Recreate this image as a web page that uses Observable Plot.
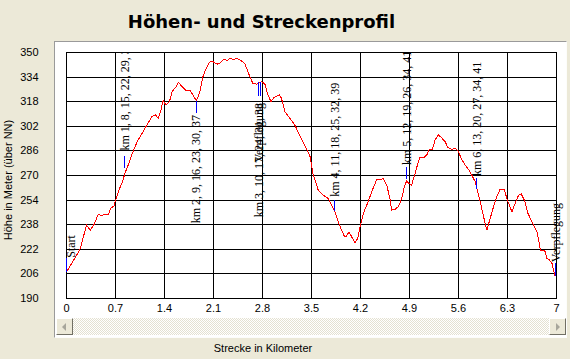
<!DOCTYPE html>
<html><head><meta charset="utf-8">
<script src="https://cdn.jsdelivr.net/npm/d3@7"></script>
<script src="https://cdn.jsdelivr.net/npm/@observablehq/plot@0.6"></script>
<style>
html,body{margin:0;padding:0;background:#ECE9D8;}
#wrap{position:relative;width:570px;height:359px;overflow:hidden;background:#ECE9D8;font-family:"Liberation Sans",Arial,sans-serif;}
#panel{position:absolute;left:54px;top:41px;width:511px;height:295px;background:#fff;border-top:1px solid #9a9a9a;border-left:1px solid #9a9a9a;border-right:1px solid #fdfdfb;border-bottom:1px solid #fdfdfb;}
#scroll{position:absolute;left:56px;top:318px;width:510px;height:17px;background-color:#f4f3ee;background-image:repeating-conic-gradient(#ffffff 0 25%, #e4e1d1 0 50%);background-size:2px 2px;}
.btn{position:absolute;top:0;width:15px;height:15px;background:#ECE9D8;border:1px solid;border-color:#fff #716f64 #716f64 #fff;box-sizing:content-box;}
.btn.l{left:0;} .btn.r{right:0;}
.tri{position:absolute;top:4px;width:0;height:0;border-top:4px solid transparent;border-bottom:4px solid transparent;}
.btn.l .tri{left:5px;border-right:4px solid #a7a69b;}
.btn.r .tri{left:6px;border-left:4px solid #a7a69b;}
#chart{position:absolute;left:0;top:0;}
#title{position:absolute;left:0;top:13px;width:523px;text-align:center;font:bold 18px "DejaVu Sans",sans-serif;line-height:18px;color:#000;white-space:nowrap;}
#xtitle{position:absolute;left:0;top:343px;width:526px;text-align:center;font:11px "Liberation Sans",Arial,sans-serif;line-height:11px;color:#000;white-space:nowrap;}
#ytitle{position:absolute;left:8px;top:180px;transform:translate(-50%,-50%) rotate(-90deg);font:11px "Liberation Sans",Arial,sans-serif;line-height:11px;color:#000;white-space:nowrap;}
</style>
</head><body>
<div id="wrap">
  <div id="panel"></div>
  <div id="scroll"><div class="btn l"><div class="tri"></div></div><div class="btn r"><div class="tri"></div></div></div>
  <div id="chart"></div>
  <div id="title">Höhen- und Streckenprofil</div>
  <div id="xtitle">Strecke in Kilometer</div>
  <div id="ytitle">Höhe in Meter (über NN)</div>
</div>
<script>
// ---- data ----
const xTicks = [0, 0.7, 1.4, 2.1, 2.8, 3.5, 4.2, 4.9, 5.6, 6.3, 7];
const xTickLabels = ["0", "0.7", "1.4", "2.1", "2.8", "3.5", "4.2", "4.9", "5.6", "6.3", "7"];
const yTicks = [190, 206, 222, 238, 254, 270, 286, 302, 318, 334, 350];
const yTickLabels = ["190", "206", "222", "238", "254", "270", "286", "302", "318", "334", "350"];

const distanceKm = [0,0.06,0.13,0.19,0.23,0.285,0.34,0.39,0.455,0.5,
  0.54,0.6,0.63,0.68,0.7,0.75,0.8,0.835,0.89,0.95,
  1.01,1.08,1.15,1.22,1.27,1.31,1.35,1.38,1.42,1.47,
  1.51,1.56,1.6,1.65,1.71,1.77,1.82,1.855,1.9,1.95,
  1.99,2.04,2.09,2.15,2.19,2.25,2.29,2.34,2.39,2.43,
  2.48,2.55,2.6,2.66,2.72,2.79,2.84,2.87,2.92,2.96,
  3.04,3.07,3.12,3.19,3.26,3.33,3.4,3.48,3.52,3.595,
  3.667,3.739,3.786,3.834,3.882,3.93,3.968,4.0,4.035,4.073,
  4.12,4.16,4.19,4.24,4.31,4.36,4.43,4.478,4.526,4.574,
  4.62,4.645,4.69,4.74,4.79,4.827,4.86,4.89,4.93,4.98,
  5.027,5.05,5.11,5.146,5.18,5.227,5.266,5.31,5.35,5.41,
  5.447,5.504,5.55,5.6,5.638,5.695,5.743,5.79,5.838,5.87,
  5.91,5.958,6.005,6.053,6.1,6.148,6.196,6.253,6.29,6.325,
  6.363,6.41,6.459,6.497,6.545,6.592,6.65,6.72,6.745,6.77,
  6.83,6.864,6.9,6.936,6.98];
const elevation = [207.4,211.7,217.1,221.5,228,237.8,234.5,237.8,244.9,243.8,
  244.7,244.9,248.6,250.3,253.8,260.6,266,271.4,277.9,285.5,
  292,297.5,302.9,308.3,309.4,307.2,312.7,318.7,316,318,
  324.6,327.4,330.5,327.9,325.2,325,321.3,318.7,323.5,334.4,
  339.1,343.7,344.1,342.4,343,345.9,344.6,346.3,345.2,346.3,
  345.2,342.6,336.5,330,329.4,331.1,329,323.5,318.1,320.5,
  322.4,320.3,311.6,307.2,302.9,296.4,289.9,282.3,271.4,260.6,
  257.3,255.1,250.8,246.4,239.9,234.5,230.6,230.6,233.4,230.2,
  226.3,229.1,235.6,245.4,253,259.5,267.1,267.1,268.2,263.8,
  255.1,247.5,247.9,249.7,255.1,262.7,266.6,264.9,263.8,271.4,
  279,281.8,281.8,283.3,286.6,287,293.1,296.4,294.9,292,
  288.3,287,287.7,285.5,281.2,276.8,274,270.3,266,260.1,
  253,243.2,234.5,242.1,249.7,256.2,261.2,261.2,255.1,250.8,
  246.4,251.9,257.3,258,253.6,245.4,239.9,233.4,228.4,221.5,
  221.5,216.1,215,212.8,204.5];

// blue marker ticks
const markerKm   = [0, 0.833, 1.857, 2.738, 2.767, 3.833, 4.857, 5.857, 6.98];
const markerLow  = [207, 274.7, 310.5, 321.3, 321.3, 246.4, 267.1, 260.6, 204.5];
const markerHigh = [216.2, 282.2, 318.1, 330.5, 330.5, 253.6, 274.9, 268.3, 213];

// labels reading upward from their anchor
const upKm    = [0.06, 0.835, 3.843, 4.862, 5.86];
const upElev  = [216.5, 286.2, 256.2, 276.8, 269.7];
const upText  = ["Start", "km 1, 8, 15, 22, 29, 36", "km 4, 11, 18, 25, 32, 39", "km 5, 12, 19, 26, 34, 41", "km 6, 13, 20, 27, 34, 41"];
// labels ending at their anchor (hanging below)
const downKm   = [1.857, 2.757, 2.757];
const downElev = [309.4, 317.2, 317.2];
const downText = ["km 2, 9, 16, 23, 30, 37", "km 3, 10, 17, 24, 31, 38", "Verpflegung"];
// label at the finish
const endKm = [6.99];
const endElev = [213.6];
const endText = ["Verpflegung"];

// ---- tables ----
const profile = distanceKm.map((k, i) => ({km: k, m: elevation[i]}));
const markers = markerKm.map((k, i) => ({km: k, lo: markerLow[i], hi: markerHigh[i]}));
const upLabels = upKm.map((k, i) => ({km: k, m: upElev[i], t: upText[i]}));
const downLabels = downKm.map((k, i) => ({km: k, m: downElev[i], t: downText[i]}));
const endLabels = endKm.map((k, i) => ({km: k, m: endElev[i], t: endText[i]}));

const serif = "'Liberation Serif','Times New Roman',serif";

const chart = Plot.plot({
  width: 570, height: 359,
  marginLeft: 66, marginRight: 14, marginTop: 52, marginBottom: 61,
  x: {domain: [0, 7]},
  y: {domain: [190, 350]},
  style: {background: "transparent", fontFamily: "'Liberation Sans',Arial,sans-serif", fontSize: "11px", color: "black", overflow: "visible"},
  marks: [
    Plot.ruleX(xTicks, {stroke: "black", shapeRendering: "crispEdges"}),
    Plot.ruleY(yTicks, {stroke: "black", shapeRendering: "crispEdges"}),
    Plot.frame({stroke: "black", shapeRendering: "crispEdges"}),
    Plot.axisX(xTicks, {tickSize: 0, tickPadding: 6, tickFormat: d => xTickLabels[xTicks.indexOf(d)], label: null}),
    Plot.axisY(yTicks, {tickSize: 0, tickPadding: 28, tickFormat: d => yTickLabels[yTicks.indexOf(d)], label: null}),
    Plot.line(profile, {x: "km", y: "m", stroke: "#ff0000", strokeWidth: 1, shapeRendering: "crispEdges"}),
    Plot.ruleX(markers, {x: "km", y1: "lo", y2: "hi", stroke: "#0000ff", strokeWidth: 1, shapeRendering: "crispEdges"}),
    Plot.text(upLabels, {x: "km", y: "m", text: "t", rotate: -90, textAnchor: "start", clip: true, fontFamily: serif, fontSize: 12, fill: "black"}),
    Plot.text(downLabels, {x: "km", y: "m", text: "t", rotate: -90, textAnchor: "end", clip: true, fontFamily: serif, fontSize: 12, fill: "black"}),
    Plot.text(endLabels, {x: "km", y: "m", text: "t", rotate: -90, textAnchor: "start", fontFamily: serif, fontSize: 12, fill: "black"})
  ]
});
document.getElementById("chart").appendChild(chart);
</script>
</body></html>
